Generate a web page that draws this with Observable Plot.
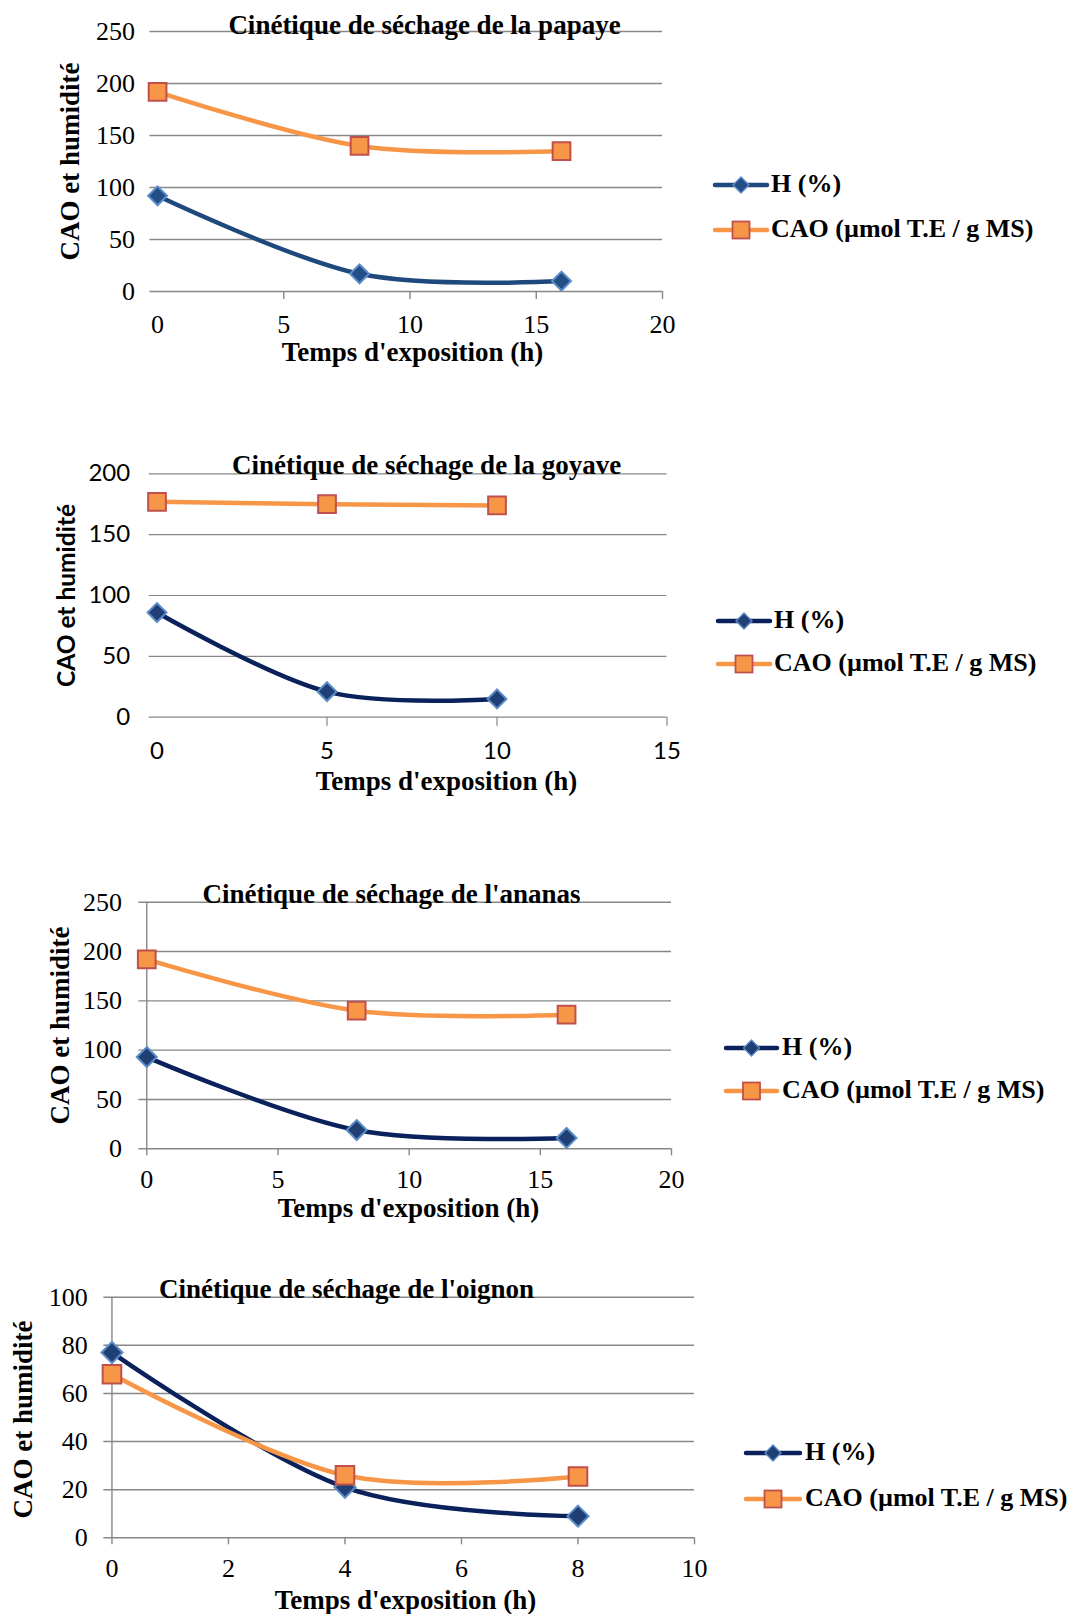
<!DOCTYPE html>
<html><head><meta charset="utf-8">
<script src="https://cdn.jsdelivr.net/npm/d3@7"></script>
<script src="https://cdn.jsdelivr.net/npm/@observablehq/plot@0.6"></script>
<style>
html,body{margin:0;padding:0;background:#fff;}
#page{position:relative;width:1088px;height:1614px;overflow:hidden;background:#fff;}
#page svg.chart{position:absolute;left:0;}
.legtxt{position:absolute;font-family:"Liberation Serif","Times New Roman",serif;font-weight:bold;font-size:26px;line-height:26px;height:26px;color:#000;white-space:nowrap;}
.legsw{position:absolute;overflow:visible;}
</style></head><body><div id="page"></div>
<script>
// ---------- data ----------
const titre_papaye = "Cinétique de séchage de la papaye";
const titre_goyave = "Cinétique de séchage de la goyave";
const titre_ananas = "Cinétique de séchage de l'ananas";
const titre_oignon = "Cinétique de séchage de l'oignon";
const axeX = "Temps d'exposition (h)";
const axeY = "CAO et humidité";
const serieH = "H (%)";
const serieCAO = "CAO (µmol T.E / g MS)";

const temps_papaye = [0, 8, 16];
const H_papaye = [92, 17, 10];
const CAO_papaye = [192, 140, 135];

const temps_goyave = [0, 5, 10];
const H_goyave = [86, 21, 15];
const CAO_goyave = [177, 175, 174];

const temps_ananas = [0, 8, 16];
const H_ananas = [93, 19, 11];
const CAO_ananas = [192, 140, 136];

const temps_oignon = [0, 4, 8];
const H_oignon = [77, 21, 9];
const CAO_oignon = [68, 26, 25.5];

const ticksY_250 = [0, 50, 100, 150, 200, 250];
const ticksY_200 = [0, 50, 100, 150, 200];
const ticksY_100 = [0, 20, 40, 60, 80, 100];
const ticksX_20 = [0, 5, 10, 15, 20];
const ticksX_15 = [0, 5, 10, 15];
const ticksX_10 = [0, 2, 4, 6, 8, 10];

// ---------- styles ----------
const GRID = "#878787";
const ORANGE = "#f79646";
const SQ_STROKE = "#c0504d";
const DIA_EDGE = "#5b8cc8";
const SERIF = "'Liberation Serif','Times New Roman',serif";
const SANS = "Lato,'Open Sans',sans-serif";

const page = document.getElementById("page");

function drawChart(c) {
  const W = 720;
  const hData = c.t.map((t, i) => ({t, v: c.H[i]}));
  const cData = c.t.map((t, i) => ({t, v: c.C[i]}));
  const mt = c.yTop - c.top, mb = c.top + c.height - c.yZero;
  const cx = (c.xLeft + c.xRight) / 2, cy = (c.yTop + c.yZero) / 2;
  const marks = [
    Plot.gridY(c.yTicks, {stroke: GRID, strokeOpacity: 1, strokeWidth: c.gridW})
  ];
  if (c.vAxis) marks.push(Plot.ruleX([0], {stroke: GRID, strokeWidth: c.gridW}));
  marks.push(Plot.axisX(c.tickMarks, {tickSize: c.tickLen, stroke: GRID, strokeWidth: c.gridW, tickFormat: () => "", label: null}));
  marks.push(Plot.axisX(c.xTicks, {tickSize: 0, tickPadding: c.xPad, label: null, fontFamily: c.tickFamily, fontSize: c.tickFont, fill: "#000"}));
  marks.push(Plot.axisY(c.yTicks, {tickSize: 0, tickPadding: c.yPad, label: null, fontFamily: c.tickFamily, fontSize: c.tickFont, fill: "#000"}));
  // series H
  marks.push(Plot.line(hData, {x: "t", y: "v", stroke: c.hColor, strokeWidth: 4.5, curve: "catmull-rom", tension: 0, strokeLinecap: "round"}));
  marks.push(Plot.dot(hData, {x: "t", y: "v", symbol: "diamond2", r: c.diaR, fill: c.diaFill, stroke: DIA_EDGE, strokeWidth: 2}));
  // series CAO
  marks.push(Plot.line(cData, {x: "t", y: "v", stroke: ORANGE, strokeWidth: 4.5, curve: "catmull-rom", tension: 0, strokeLinecap: "round"}));
  marks.push(Plot.dot(cData, {x: "t", y: "v", symbol: "square", r: c.sqR, fill: ORANGE, stroke: SQ_STROKE, strokeWidth: 2}));
  // title
  marks.push(Plot.text([c.title], {text: d => d, frameAnchor: "top", textAnchor: "middle", lineAnchor: "bottom", dx: c.titleX - cx, dy: c.titleBase - c.yTop, fontFamily: SERIF, fontWeight: "bold", fontSize: 27, fill: "#000"}));
  // x axis title
  marks.push(Plot.text([axeX], {text: d => d, frameAnchor: "bottom", textAnchor: "middle", lineAnchor: "middle", dx: c.axXcx - cx, dy: c.axXcy - c.yZero, fontFamily: SERIF, fontWeight: "bold", fontSize: 27, fill: "#000"}));
  // y axis title
  marks.push(Plot.text([axeY], {text: d => d, frameAnchor: "left", textAnchor: "middle", lineAnchor: "middle", rotate: -90, dx: c.axYcx - c.xLeft, dy: c.axYcy - cy, fontFamily: c.yLabFamily, fontWeight: "bold", fontSize: c.yLabFont, fill: "#000"}));

  const svg = Plot.plot({
    width: W, height: c.height,
    marginTop: mt, marginBottom: mb, marginLeft: c.xLeft, marginRight: W - c.xRight,
    x: {domain: c.xDomain},
    y: {domain: c.yDomain},
    style: {background: "transparent", overflow: "visible"},
    marks
  });
  svg.classList.add("chart");
  svg.style.top = c.top + "px";
  page.appendChild(svg);

  // legend
  const ns = "http://www.w3.org/2000/svg";
  const rows = [
    {y: c.legH, label: serieH, kind: "H"},
    {y: c.legC, label: serieCAO, kind: "C"}
  ];
  rows.forEach(r => {
    const sw = document.createElementNS(ns, "svg");
    sw.setAttribute("class", "legsw");
    const w = c.legX2 - c.legX1;
    sw.setAttribute("width", w + 4);
    sw.setAttribute("height", 30);
    sw.style.left = (c.legX1 - 2) + "px";
    sw.style.top = (r.y - 15) + "px";
    const ln = document.createElementNS(ns, "line");
    ln.setAttribute("x1", 2); ln.setAttribute("x2", w + 2);
    ln.setAttribute("y1", 15); ln.setAttribute("y2", 15);
    ln.setAttribute("stroke", r.kind === "H" ? c.hColor : ORANGE);
    ln.setAttribute("stroke-width", 4.5);
    ln.setAttribute("stroke-linecap", "round");
    sw.appendChild(ln);
    const mx = 2 + w / 2;
    if (r.kind === "H") {
      const p = document.createElementNS(ns, "path");
      const s = 8;
      p.setAttribute("d", `M${mx},${15 - s}L${mx + s},15L${mx},${15 + s}L${mx - s},15Z`);
      p.setAttribute("fill", c.diaFill);
      p.setAttribute("stroke", DIA_EDGE);
      p.setAttribute("stroke-width", 1.4);
      sw.appendChild(p);
    } else {
      const p = document.createElementNS(ns, "rect");
      p.setAttribute("x", mx - 8.5); p.setAttribute("y", 15 - 8.5);
      p.setAttribute("width", 17); p.setAttribute("height", 17);
      p.setAttribute("fill", ORANGE);
      p.setAttribute("stroke", SQ_STROKE);
      p.setAttribute("stroke-width", 1.8);
      sw.appendChild(p);
    }
    page.appendChild(sw);
    const tx = document.createElement("div");
    tx.className = "legtxt";
    tx.textContent = r.label;
    tx.style.left = c.legTx + "px";
    tx.style.top = (r.y - 14) + "px";
    page.appendChild(tx);
  });
}

drawChart({
  title: titre_papaye, t: temps_papaye, H: H_papaye, C: CAO_papaye,
  top: 0, height: 380, yTop: 31, yZero: 291, yDomain: [0, 250], yTicks: ticksY_250,
  xLeft: 149.5, xRight: 662, xDomain: [-0.3, 20], xTicks: ticksX_20, tickMarks: [5, 10, 15, 20], tickLen: 8,
  vAxis: false, gridW: 1.4, tickFamily: SERIF, tickFont: 26, xPad: 23, yPad: 15,
  titleX: 424, titleBase: 33, axXcx: 412, axXcy: 352, axYcx: 70, axYcy: 161,
  yLabFamily: SERIF, yLabFont: 27,
  hColor: "#1f497d", diaFill: "#234f86", diaR: 8.5, sqR: 10,
  legH: 185, legC: 230, legX1: 715, legX2: 767, legTx: 771
});

drawChart({
  title: titre_goyave, t: temps_goyave, H: H_goyave, C: CAO_goyave,
  top: 430, height: 380, yTop: 473.3, yZero: 716.7, yDomain: [0, 200], yTicks: ticksY_200,
  xLeft: 148.7, xRight: 666.5, xDomain: [-0.23, 15], xTicks: ticksX_15, tickMarks: [5, 10, 15], tickLen: 9,
  vAxis: false, gridW: 1.2, tickFamily: SANS, tickFont: 24, xPad: 25, yPad: 19,
  titleX: 426, titleBase: 473, axXcx: 446, axXcy: 781, axYcx: 67, axYcy: 595,
  yLabFamily: SANS, yLabFont: 24.5,
  hColor: "#0b215c", diaFill: "#1f3f75", diaR: 8.5, sqR: 10,
  legH: 621, legC: 664, legX1: 718, legX2: 770, legTx: 774
});

drawChart({
  title: titre_ananas, t: temps_ananas, H: H_ananas, C: CAO_ananas,
  top: 860, height: 370, yTop: 901.7, yZero: 1148.3, yDomain: [0, 250], yTicks: ticksY_250,
  xLeft: 138.4, xRight: 671, xDomain: [-0.3, 20], xTicks: ticksX_20, tickMarks: ticksX_20, tickLen: 7,
  vAxis: true, gridW: 1.4, tickFamily: SERIF, tickFont: 26, xPad: 20.5, yPad: 17,
  titleX: 391, titleBase: 902, axXcx: 408, axXcy: 1208, axYcx: 60, axYcy: 1025,
  yLabFamily: SERIF, yLabFont: 27,
  hColor: "#0b215c", diaFill: "#1f3f75", diaR: 9, sqR: 10,
  legH: 1048, legC: 1091, legX1: 726, legX2: 777, legTx: 782
});

drawChart({
  title: titre_oignon, t: temps_oignon, H: H_oignon, C: CAO_oignon,
  top: 1250, height: 364, yTop: 1296.7, yZero: 1537.3, yDomain: [0, 100], yTicks: ticksY_100,
  xLeft: 103.3, xRight: 694, xDomain: [-0.14, 10], xTicks: ticksX_10, tickMarks: ticksX_10, tickLen: 7,
  vAxis: true, gridW: 1.4, tickFamily: SERIF, tickFont: 26, xPad: 21, yPad: 16,
  titleX: 346, titleBase: 1297, axXcx: 405, axXcy: 1600, axYcx: 23, axYcy: 1419,
  yLabFamily: SERIF, yLabFont: 27,
  hColor: "#0b215c", diaFill: "#1f3f75", diaR: 9.5, sqR: 10.5,
  legH: 1453, legC: 1499, legX1: 746, legX2: 800, legTx: 805
});
</script></body></html>
